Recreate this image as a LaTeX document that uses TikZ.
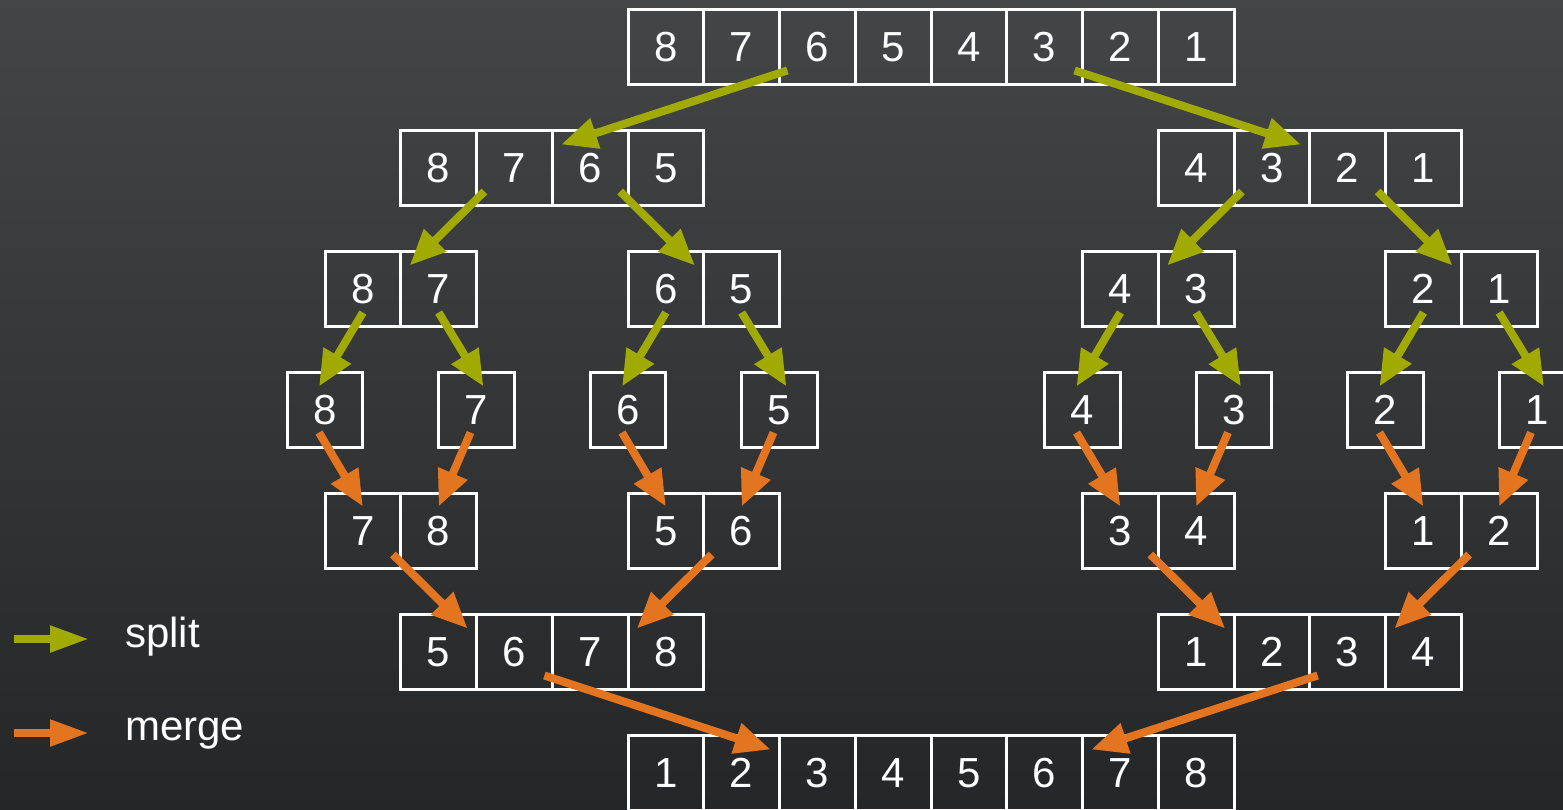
\documentclass[tikz,border=0pt]{standalone}
\usepackage{fontspec}
\setmainfont{Liberation Sans}
\usetikzlibrary{arrows.meta}
\definecolor{splitc}{RGB}{160,170,0}
\definecolor{mergec}{RGB}{227,116,32}
\definecolor{bgtop}{RGB}{68,69,71}
\definecolor{bgbot}{RGB}{37,38,39}
\newcommand\cellrow[4]{\foreach \d [count=\i] in {#4}{\node[cell] (#1\i) at ({628+(#2+\i-0.5)*75.75},{46.5+121*#3}) {\d};}}
\begin{document}
\begin{tikzpicture}[x=1pt,y=-1pt,
  cell/.style={draw=white,line width=3pt,minimum width=75.75pt,minimum height=75pt,inner sep=0pt,text=white,text height=30pt,text depth=0pt,font=\fontsize{42}{42}\selectfont},
  sp/.style={draw=splitc,line width=8pt,-{Triangle[length=36pt,width=30pt]}},
  mg/.style={draw=mergec,line width=8pt,-{Triangle[length=36pt,width=30pt]}},
  legsp/.style={draw=splitc,line width=8pt,-{Triangle[length=39pt,width=25pt]}},
  legmg/.style={draw=mergec,line width=8pt,-{Triangle[length=39pt,width=25pt]}},
  legtext/.style={anchor=base west,inner sep=0pt,text=white,font=\fontsize{42}{42}\selectfont}]
\useasboundingbox (0,0) rectangle (1563,809);
\clip (0,0) rectangle (1563,809);
\shade[top color=bgtop,bottom color=bgbot] (0,0) rectangle (1563,809);
% rows
\cellrow{t}{0}{0}{8,7,6,5,4,3,2,1}
\cellrow{a}{-3}{1}{8,7,6,5}
\cellrow{b}{7}{1}{4,3,2,1}
\cellrow{c}{-4}{2}{8,7}
\cellrow{d}{0}{2}{6,5}
\cellrow{e}{6}{2}{4,3}
\cellrow{f}{10}{2}{2,1}
\node[cell] (s1) at ({628-4*75.75},409.5) {8};
\node[cell] (s2) at ({628-2*75.75},409.5) {7};
\node[cell] (s3) at ({628},409.5) {6};
\node[cell] (s4) at ({628+2*75.75},409.5) {5};
\node[cell] (s5) at ({628+6*75.75},409.5) {4};
\node[cell] (s6) at ({628+8*75.75},409.5) {3};
\node[cell] (s7) at ({628+10*75.75},409.5) {2};
\node[cell] (s8) at ({628+12*75.75},409.5) {1};
\cellrow{g}{-4}{4}{7,8}
\cellrow{h}{0}{4}{5,6}
\cellrow{i}{6}{4}{3,4}
\cellrow{j}{10}{4}{1,2}
\cellrow{k}{-3}{5}{5,6,7,8}
\cellrow{l}{7}{5}{1,2,3,4}
\cellrow{m}{0}{6}{1,2,3,4,5,6,7,8}
% split arrows
\draw[sp] ([shift={(-30,24)}]t3.center) -- ([shift={(-29,-23)}]a3.center);
\draw[sp] ([shift={(30,24)}]t6.center) -- ([shift={(29,-23)}]b2.center);
\draw[sp] ([shift={(-30,24)}]a2.center) -- ([shift={(-29,-23)}]c2.center);
\draw[sp] ([shift={(30,24)}]a3.center) -- ([shift={(29,-23)}]d1.center);
\draw[sp] ([shift={(-30,24)}]b2.center) -- ([shift={(-29,-23)}]e2.center);
\draw[sp] ([shift={(30,24)}]b3.center) -- ([shift={(29,-23)}]f1.center);
\draw[sp] ([shift={(0,24)}]c1.center) -- ([shift={(-6,-23)}]s1.center);
\draw[sp] ([shift={(0,24)}]c2.center) -- ([shift={(7,-23)}]s2.center);
\draw[sp] ([shift={(0,24)}]d1.center) -- ([shift={(-6,-23)}]s3.center);
\draw[sp] ([shift={(0,24)}]d2.center) -- ([shift={(7,-23)}]s4.center);
\draw[sp] ([shift={(0,24)}]e1.center) -- ([shift={(-6,-23)}]s5.center);
\draw[sp] ([shift={(0,24)}]e2.center) -- ([shift={(7,-23)}]s6.center);
\draw[sp] ([shift={(0,24)}]f1.center) -- ([shift={(-6,-23)}]s7.center);
\draw[sp] ([shift={(0,24)}]f2.center) -- ([shift={(7,-23)}]s8.center);
% merge arrows
\draw[mg] ([shift={(-6,23)}]s1.center) -- ([shift={(0,-24)}]g1.center);
\draw[mg] ([shift={(-6,23)}]s2.center) -- ([shift={(0,-24)}]g2.center);
\draw[mg] ([shift={(-6,23)}]s3.center) -- ([shift={(0,-24)}]h1.center);
\draw[mg] ([shift={(-6,23)}]s4.center) -- ([shift={(0,-24)}]h2.center);
\draw[mg] ([shift={(-6,23)}]s5.center) -- ([shift={(0,-24)}]i1.center);
\draw[mg] ([shift={(-6,23)}]s6.center) -- ([shift={(0,-24)}]i2.center);
\draw[mg] ([shift={(-6,23)}]s7.center) -- ([shift={(0,-24)}]j1.center);
\draw[mg] ([shift={(-6,23)}]s8.center) -- ([shift={(0,-24)}]j2.center);
\draw[mg] ([shift={(30,24)}]g1.center) -- ([shift={(29,-23)}]k1.center);
\draw[mg] ([shift={(-30,24)}]h2.center) -- ([shift={(-29,-23)}]k4.center);
\draw[mg] ([shift={(30,24)}]i1.center) -- ([shift={(29,-23)}]l1.center);
\draw[mg] ([shift={(-30,24)}]j2.center) -- ([shift={(-29,-23)}]l4.center);
\draw[mg] ([shift={(30,24)}]k2.center) -- ([shift={(29,-23)}]m2.center);
\draw[mg] ([shift={(-30,24)}]l3.center) -- ([shift={(-29,-23)}]m7.center);
% legend
\node[legtext] (lsplit) at (125,647) {split};
\node[legtext] (lmerge) at (125,740) {merge};
\coordinate (ls0) at (14,639);
\coordinate (ls1) at (89,639);
\coordinate (lm0) at (14,733);
\coordinate (lm1) at (89,733);
\draw[legsp] (ls0) -- (ls1);
\draw[legmg] (lm0) -- (lm1);
\end{tikzpicture}
\end{document}
